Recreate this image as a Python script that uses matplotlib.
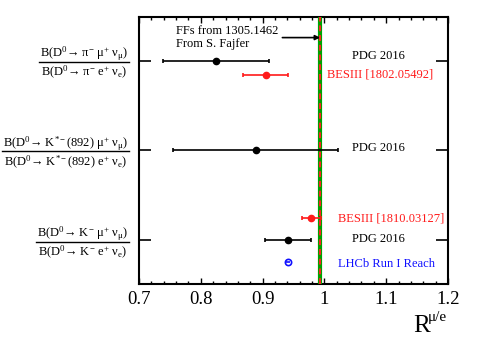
import matplotlib
matplotlib.use("Agg")
import matplotlib.pyplot as plt
from matplotlib.ticker import MultipleLocator

plt.rcParams['font.family'] = ['Liberation Serif', 'DejaVu Serif']
plt.rcParams['mathtext.fontset'] = 'custom'
plt.rcParams['mathtext.rm'] = 'Liberation Serif'
plt.rcParams['mathtext.it'] = 'Liberation Serif:italic'
plt.rcParams['mathtext.bf'] = 'Liberation Serif:bold'

# ---- data ----
rows = [3, 2, 1]  # pi, K*, K
pdg_vals = [0.824, 0.889, 0.941]
pdg_lo = [0.739, 0.755, 0.904]
pdg_hi = [0.910, 1.022, 0.979]

bes_rows = [2.84, 1.25]
bes_vals = [0.905, 0.978]
bes_lo = [0.869, 0.963]
bes_hi = [0.941, 0.994]
bes_labels = ["BESIII [1802.05492]", "BESIII [1810.03127]"]

lhcb_row = [0.75]
lhcb_val = [0.941]
lhcb_err = [0.003]

sm_value = 0.993

num_labels = [r"B(D$^{0}$→ π$^{-}$ μ$^{+}$ ν$_{\mathrm{μ}}$)",
              r"B(D$^{0}$→ K$^{*-}$(892) μ$^{+}$ ν$_{\mathrm{μ}}$)",
              r"B(D$^{0}$→ K$^{-}$ μ$^{+}$ ν$_{\mathrm{μ}}$)"]
den_labels = [r"B(D$^{0}$→ π$^{-}$ e$^{+}$ ν$_{\mathrm{e}}$)",
              r"B(D$^{0}$→ K$^{*-}$(892) e$^{+}$ ν$_{\mathrm{e}}$)",
              r"B(D$^{0}$→ K$^{-}$ e$^{+}$ ν$_{\mathrm{e}}$)"]

fig = plt.figure(figsize=(4.98, 3.39), dpi=100)
W, H = 498, 339
ax = fig.add_axes([139 / W, 1 - 284 / H, (448 - 139) / W, (284 - 17) / H])
ax.set_xlim(0.7, 1.2)
ax.set_ylim(0.508, 3.49)

# SM line
ax.axvline(sm_value, color='#00a000', lw=3.0, zorder=3)
ax.axvline(sm_value, color='#ff2020', lw=1.4, ls=(0, (3, 2)), zorder=4)

# PDG
for y, v, lo, hi in zip(rows, pdg_vals, pdg_lo, pdg_hi):
    ax.errorbar([v], [y], xerr=[[v - lo], [hi - v]], fmt='o', color='black',
                ms=4.5, lw=1.2, capsize=1.2, capthick=1.2, zorder=5)
# BESIII
for y, v, lo, hi in zip(bes_rows, bes_vals, bes_lo, bes_hi):
    ax.errorbar([v], [y], xerr=[[v - lo], [hi - v]], fmt='o', color='#ff1a1a',
                ms=4.5, lw=1.2, capsize=1.2, capthick=1.2, zorder=5)
# LHCb
ax.errorbar(lhcb_val, lhcb_row, xerr=[lhcb_err], fmt='o', color='#1010ff',
            mfc='none', ms=4.5, mew=1.2, lw=1.2, capsize=0, zorder=5)

# labels
fs = 9
ax.text(1.044, 3.05, "PDG 2016", fontsize=fs, color='black', va='center')
ax.text(1.004, 2.85, bes_labels[0], fontsize=fs, color='#ff1a1a', va='center')
ax.text(1.044, 2.03, "PDG 2016", fontsize=fs, color='black', va='center')
ax.text(1.022, 1.245, bes_labels[1], fontsize=fs, color='#ff1a1a', va='center')
ax.text(1.044, 1.01, "PDG 2016", fontsize=fs, color='black', va='center')
ax.text(1.022, 0.73, "LHCb Run I Reach", fontsize=fs, color='#1010ff', va='center')

ax.text(0.760, 3.33, "FFs from 1305.1462", fontsize=fs, va='center')
ax.text(0.760, 3.19, "From S. Fajfer", fontsize=fs, va='center')
ax.annotate("", xy=(sm_value, 3.26), xytext=(0.932, 3.26),
            arrowprops=dict(arrowstyle='-|>', color='black', lw=1.2,
                            mutation_scale=7, shrinkA=0, shrinkB=0))

# axes styling
for s in ax.spines.values():
    s.set_linewidth(1.5)
ax.xaxis.set_major_locator(MultipleLocator(0.1))
ax.xaxis.set_minor_locator(MultipleLocator(0.02))
ax.tick_params(axis='x', which='major', direction='in', length=4.3, width=1.0,
               top=True, labelsize=13.5, pad=5)
ax.tick_params(axis='x', which='minor', direction='in', length=2.2, width=1.0, top=True)
ax.set_xticks([0.7, 0.8, 0.9, 1.0, 1.1, 1.2])
ax.set_xticklabels(["0.7", "0.8", "0.9", "1", "1.1", "1.2"])
ax.set_yticks(rows)
ax.set_yticklabels([])
ax.tick_params(axis='y', which='major', direction='in', length=8.6, width=1.2,
               right=True)
ax.tick_params(axis='y', which='minor', left=False, right=False)

fig.text(413 / W, 1 - 332 / H, "R", fontsize=18, ha='left', va='baseline')
fig.text(428 / W, 1 - 321 / H, "μ/e", fontsize=11, ha='left', va='baseline')

# fraction labels
fig.canvas.draw()
r = fig.canvas.get_renderer()
lfs = 9
centers_y = [61.5, 151.5, 241.5]
for nl, dl, cy in zip(num_labels, den_labels, centers_y):
    tn = fig.text(0, 0, nl, fontsize=lfs, ha='center', va='baseline')
    td = fig.text(0, 0, dl, fontsize=lfs, ha='center', va='baseline')
    wn = tn.get_window_extent(r).width
    wd = td.get_window_extent(r).width
    w = max(wn, wd) + 2
    xc = 129 - w / 2
    tn.set_position((xc / W, 1 - (cy - 5) / H))
    td.set_position((xc / W, 1 - (cy + 14) / H))
    fig.add_artist(plt.Line2D([(xc - w / 2) / W, (xc + w / 2) / W],
                              [1 - cy / H, 1 - cy / H], color='black', lw=1.0))

fig.savefig("out.png", dpi=100)
